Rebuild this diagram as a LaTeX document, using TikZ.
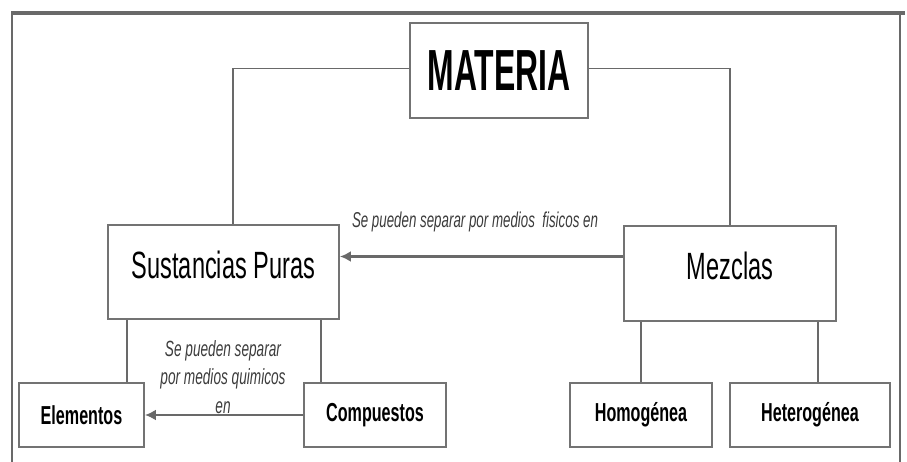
\documentclass[tikz,border=0pt]{standalone}
\usepackage{fontspec}
\setmainfont{Liberation Sans}
\newfontfamily\narrowsans[FakeStretch=0.62]{Liberation Sans}
\newfontfamily\tightsans[FakeStretch=0.55]{Liberation Sans}
\usepackage{tikz}
\usetikzlibrary{positioning,calc,arrows.meta}
\definecolor{linegray}{RGB}{105,105,105}
\definecolor{boxgray}{RGB}{115,115,115}
\definecolor{labelgray}{RGB}{60,60,60}

\begin{document}
\begin{tikzpicture}[x=1pt, y=-1pt,
    box/.style={draw=boxgray, line width=1.8pt, fill=white, inner sep=0pt, font=\narrowsans},
    link/.style={draw=linegray, line width=1.3pt},
    sep/.style={draw=linegray, line width=2.6pt, -{Latex[length=11pt,width=11pt]}},
    note/.style={font=\narrowsans\itshape, text=labelgray, inner sep=0pt}]
    \useasboundingbox (0,0) rectangle (907,462);

    % Frame
    \draw[linegray, line width=3.5pt] (11,13) -- (905,13);
    \draw[linegray, line width=1.8pt] (12,13) -- (12,462);
    \draw[linegray, line width=1.8pt] (900,13) -- (900,462);

    % Boxes
    \node[box, minimum width=178pt, minimum height=95pt, font=\tightsans\bfseries\fontsize{58}{58}\selectfont] (materia) at (499,70.5) {MATERIA};
    \node[box, minimum width=231pt, minimum height=94pt, font=\narrowsans\fontsize{38}{38}\selectfont, text depth=14pt] (sust) at (223.5,272) {Sustancias Puras};
    \node[box, minimum width=212pt, minimum height=95pt, font=\narrowsans\fontsize{38}{38}\selectfont, text depth=16pt] (mezclas) at (730,273.5) {Mezclas};
    \node[box, minimum width=125pt, minimum height=64pt, font=\narrowsans\bfseries\fontsize{26}{26}\selectfont] (elem) at (81.5,415) {Elementos};
    \node[box, minimum width=142pt, minimum height=64pt, font=\narrowsans\bfseries\fontsize{26}{26}\selectfont] (comp) at (375,415) {Compuestos};
    \node[box, minimum width=142pt, minimum height=64pt, font=\narrowsans\bfseries\fontsize{26}{26}\selectfont] (homo) at (641,415) {Homogénea};
    \node[box, minimum width=160pt, minimum height=64pt, font=\narrowsans\bfseries\fontsize{26}{26}\selectfont] (hetero) at (810,415) {Heterogénea};

    % Tree lines
    \draw[link] ([yshift=2pt]materia.west) -| ([xshift=9.5pt]sust.north);
    \draw[link] ([yshift=2pt]materia.east) -| (mezclas.north);
    \draw[link] ([xshift=-18pt]elem.north east) -- ([xshift=-18pt]elem.north east |- sust.south);
    \draw[link] ([xshift=18pt]comp.north west) -- ([xshift=18pt]comp.north west |- sust.south);
    \draw[link] (homo.north) -- (homo.north |- mezclas.south);
    \draw[link] ([xshift=8pt]hetero.north) -- ([xshift=8pt]hetero.north |- mezclas.south);

    % Separation arrows
    \draw[sep] ([yshift=17pt]mezclas.west) -- ([yshift=17pt]mezclas.west -| sust.east);
    \draw[sep] (comp.west) -- (elem.east);

    % Labels
    \node[note, font=\narrowsans\itshape\fontsize{21.5}{21.5}\selectfont] (fisico) at (475,222) {Se pueden separar por medios\ \ fisicos en};
    \node[note, align=center, font=\narrowsans\itshape\fontsize{22}{28.5}\selectfont] (quimico) at (223,377) {Se pueden separar\\por medios quimicos\\en};
\end{tikzpicture}
\end{document}
